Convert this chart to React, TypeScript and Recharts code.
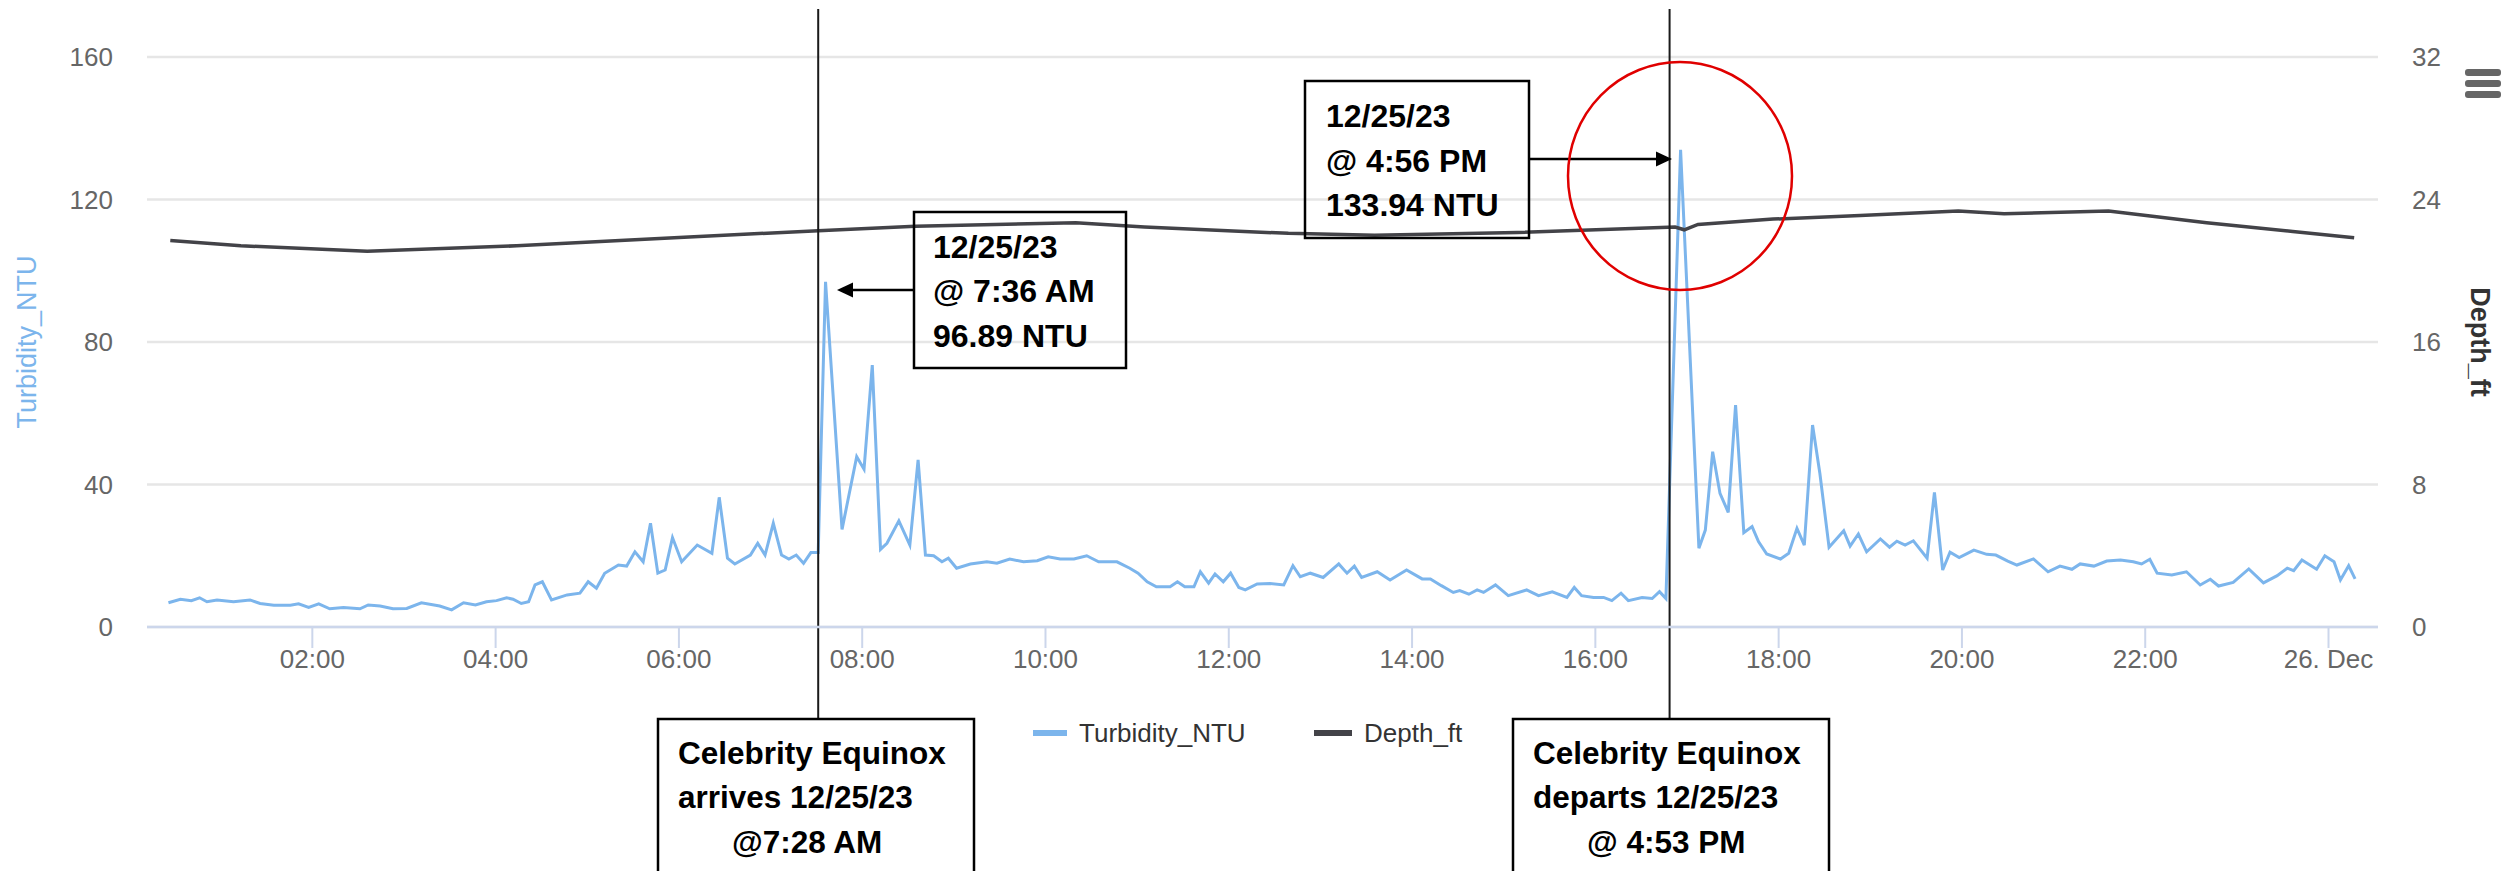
import React from "react";
import { LineChart, Line, XAxis, YAxis, CartesianGrid, ReferenceLine } from "recharts";

// turbidity readings, hours since midnight 12/25/23
const turbidityHours = [
  0.43, 0.56, 0.68, 0.77, 0.85, 0.96, 1.14, 1.32, 1.43, 1.58, 1.76, 1.85, 1.96, 2.07, 2.19, 2.34,
  2.52, 2.61, 2.74, 2.88, 3.03, 3.19, 3.39, 3.52, 3.65, 3.78, 3.9, 4.01, 4.12, 4.19, 4.28, 4.36,
  4.43, 4.51, 4.61, 4.78, 4.92, 5.01, 5.1, 5.19, 5.34, 5.43, 5.52, 5.61, 5.69, 5.77, 5.85, 5.93,
  6.03, 6.2, 6.36, 6.44, 6.53, 6.61, 6.78, 6.86, 6.94, 7.03, 7.12, 7.2, 7.28, 7.36, 7.44, 7.52,
  7.6, 7.78, 7.94, 8.02, 8.11, 8.2, 8.27, 8.4, 8.52, 8.61, 8.69, 8.78, 8.87, 8.94, 9.03, 9.18,
  9.36, 9.47, 9.61, 9.76, 9.91, 10.03, 10.16, 10.31, 10.45, 10.58, 10.78, 10.92, 11.01, 11.11,
  11.21, 11.36, 11.44, 11.52, 11.62, 11.69, 11.78, 11.85, 11.94, 12.02, 12.11, 12.18, 12.31,
  12.45, 12.6, 12.7, 12.78, 12.89, 13.03, 13.2, 13.29, 13.37, 13.45, 13.62, 13.76, 13.94, 14.11,
  14.2, 14.32, 14.45, 14.52, 14.62, 14.71, 14.78, 14.91, 15.05, 15.25, 15.38, 15.53, 15.69,
  15.77, 15.85, 15.98, 16.09, 16.18, 16.28, 16.36, 16.51, 16.62, 16.7, 16.77, 16.93, 17.13,
  17.2, 17.28, 17.36, 17.45, 17.53, 17.62, 17.71, 17.78, 17.87, 18.02, 18.11, 18.2, 18.28, 18.37,
  18.45, 18.55, 18.71, 18.78, 18.87, 18.96, 19.11, 19.21, 19.29, 19.38, 19.47, 19.62, 19.7,
  19.79, 19.87, 19.97, 20.13, 20.27, 20.37, 20.5, 20.6, 20.78, 20.94, 21.07, 21.2, 21.29, 21.44,
  21.58, 21.73, 21.87, 21.96, 22.05, 22.13, 22.29, 22.45, 22.6, 22.71, 22.8, 22.96, 23.13, 23.29,
  23.44, 23.55, 23.62, 23.71, 23.87, 23.96, 24.06, 24.13, 24.22, 24.29,
];
const turbidityNtu = [
  6.8, 7.8, 7.4, 8.2, 7.1, 7.6, 7.1, 7.6, 6.6, 6.1, 6.1, 6.5, 5.5, 6.5, 5.1, 5.5,
  5.1, 6.2, 5.9, 5.1, 5.2, 6.8, 5.9, 4.8, 6.8, 6.2, 7.1, 7.4, 8.2, 7.8, 6.6, 7.1,
  11.8, 12.7, 7.6, 9.0, 9.5, 12.7, 10.9, 15.1, 17.4, 17.1, 21.1, 18.3, 29.1, 15.1, 16.0, 25.1,
  18.3, 23.0, 20.7, 36.4, 19.3, 17.7, 20.2, 23.5, 20.2, 29.1, 20.2, 19.1, 20.2, 17.9, 20.9, 20.9,
  96.89, 27.4, 47.8, 44.3, 73.5, 21.8, 23.5, 29.8, 23.0, 46.9, 20.2, 20.0, 18.3, 19.3, 16.5, 17.7,
  18.3, 17.9, 19.1, 18.3, 18.6, 19.7, 19.1, 19.1, 20.0, 18.3, 18.3, 16.5, 15.1, 12.7,
  11.3, 11.3, 12.7, 11.3, 11.3, 15.5, 12.3, 14.9, 12.7, 15.1, 11.1, 10.4, 12.1,
  12.2, 11.8, 17.2, 14.1, 15.1, 13.9, 17.7, 15.1, 17.1, 13.9, 15.5, 13.2, 16.0, 13.5,
  13.5, 11.6, 9.7, 10.2, 9.2, 10.4, 9.7, 11.8, 8.8, 10.4, 8.8, 9.9, 8.3,
  11.1, 8.8, 8.3, 8.3, 7.4, 9.5, 7.4, 8.3, 8.0, 9.9, 8.0, 133.94, 22.1,
  27.2, 49.2, 37.5, 32.2, 62.3, 26.5, 28.2, 24.0, 20.5, 19.1, 20.7, 27.7, 23.0, 56.7,
  43.1, 22.4, 27.0, 22.7, 26.1, 21.1, 24.7, 22.4, 24.1, 23.0, 24.2, 19.3, 37.8,
  16.0, 21.0, 19.5, 21.6, 20.4, 20.2, 18.5, 17.4, 19.1, 15.5, 17.1, 16.2, 17.7, 17.1,
  18.5, 18.8, 18.3, 17.7, 19.0, 15.1, 14.6, 15.5, 11.8, 13.4, 11.5, 12.5, 16.3, 12.4,
  14.4, 16.5, 15.8, 18.8, 16.2, 20.0, 18.3, 13.2, 17.2, 13.5,
];

const depthHours = [
  0.45, 1.22, 2.6, 4.23, 6.11, 7.52, 8.58, 10.33, 11.08, 12.65, 13.59, 15.15,
  16.87, 16.97, 17.12, 17.94, 18.89, 19.96, 20.46, 21.6, 22.67, 23.61, 24.28,
];
const depthFt = [
  21.7, 21.4, 21.1, 21.4, 21.9, 22.25, 22.5, 22.7, 22.45, 22.1, 22.0, 22.15,
  22.45, 22.3, 22.6, 22.9, 23.1, 23.35, 23.2, 23.35, 22.7, 22.2, 21.85,
];

const hourTicks = [2, 4, 6, 8, 10, 12, 14, 16, 18, 20, 22, 24];
const ntuTicks = [0, 40, 80, 120, 160];
const depthTicks = [0, 8, 16, 24, 32];
// ship arrival / departure (as drawn on the screenshot)
const shipHours = [7.52, 16.81];

const turbidityData = turbidityHours.map((t, i) => ({ t, v: turbidityNtu[i] }));
const depthData = depthHours.map((t, i) => ({ t, v: depthFt[i] }));

const FONT = '"Liberation Sans", Arial, Helvetica, sans-serif';

function hourLabel(h: number) {
  if (h === 24) return "26. Dec";
  return `${String(h).padStart(2, "0")}:00`;
}

function shipLine(props: any) {
  return <line x1={props.x1} x2={props.x2} y1={9} y2={719} stroke="#1a1a1a" strokeWidth={2} />;
}

function Callout({ x, y, w, h, lines, tx, baselines, size }: any) {
  return (
    <g>
      <rect x={x} y={y} width={w} height={h} fill="none" stroke="#000" strokeWidth={2.5} />
      {lines.map((s: string, i: number) => (
        <text
          key={i}
          x={tx + (s.startsWith("@") && y > 600 ? 54 : 0)}
          y={baselines[i]}
          fontFamily={FONT}
          fontWeight={700}
          fontSize={size}
          fill="#000"
        >
          {s}
        </text>
      ))}
    </g>
  );
}

export default function App() {
  return (
    <div style={{ position: "relative", width: 2506, height: 871, overflow: "hidden", background: "#fff", fontFamily: FONT }}>
      <style>{"body{margin:0}"}</style>
      <LineChart width={2506} height={871} margin={{ top: 57, right: 0, bottom: 0, left: 0 }}>
        <CartesianGrid vertical={false} stroke="#e6e6e6" strokeWidth={2.5} yAxisId="left" />
        <XAxis
          dataKey="t"
          type="number"
          domain={[0.196, 24.54]}
          allowDataOverflow
          ticks={hourTicks}
          interval={0}
          tickFormatter={hourLabel}
          height={244}
          tickSize={21}
          tickMargin={2}
          axisLine={{ stroke: "#ccd6eb", strokeWidth: 2.5 }}
          tickLine={{ stroke: "#ccd6eb", strokeWidth: 2 }}
          tick={{ fill: "#666", fontSize: 26, fontFamily: FONT }}
        />
        <YAxis
          yAxisId="left"
          domain={[0, 160]}
          ticks={ntuTicks}
          width={147}
          axisLine={false}
          tickLine={false}
          tickSize={0}
          tickMargin={34}
          tick={{ fill: "#666", fontSize: 26, fontFamily: FONT }}
        />
        <YAxis
          yAxisId="right"
          orientation="right"
          domain={[0, 32]}
          ticks={depthTicks}
          width={128}
          axisLine={false}
          tickLine={false}
          tickSize={0}
          tickMargin={34}
          tick={{ fill: "#666", fontSize: 26, fontFamily: FONT }}
        />
        <Line
          yAxisId="left"
          data={turbidityData}
          dataKey="v"
          name="Turbidity_NTU"
          type="linear"
          stroke="#7cb5ec"
          strokeWidth={3}
          dot={false}
          isAnimationActive={false}
        />
        <Line
          yAxisId="right"
          data={depthData}
          dataKey="v"
          name="Depth_ft"
          type="linear"
          stroke="#434348"
          strokeWidth={3.5}
          dot={false}
          isAnimationActive={false}
        />
        {shipHours.map((h) => (
          <ReferenceLine key={h} x={h} yAxisId="left" shape={shipLine} />
        ))}
      </LineChart>

      <svg width={2506} height={871} style={{ position: "absolute", left: 0, top: 0, pointerEvents: "none" }}>
        {/* axis titles */}
        <text x={27} y={342} transform="rotate(-90 27 342)" textAnchor="middle" dominantBaseline="central"
          fontFamily={FONT} fontSize={27} fill="#7cb5ec">Turbidity_NTU</text>
        <text x={2480} y={342} transform="rotate(90 2480 342)" textAnchor="middle" dominantBaseline="central"
          fontFamily={FONT} fontSize={27} fontWeight={700} fill="#333">Depth_ft</text>

        {/* menu button */}
        <rect x={2465} y={69} width={36} height={7} rx={3} fill="#666" />
        <rect x={2465} y={80} width={36} height={7} rx={3} fill="#666" />
        <rect x={2465} y={91} width={36} height={7} rx={3} fill="#666" />

        {/* legend */}
        <line x1={1033} x2={1067} y1={733} y2={733} stroke="#7cb5ec" strokeWidth={6} />
        <text x={1079} y={742} fontFamily={FONT} fontSize={26} fill="#333">Turbidity_NTU</text>
        <line x1={1314} x2={1352} y1={733} y2={733} stroke="#434348" strokeWidth={6} />
        <text x={1364} y={742} fontFamily={FONT} fontSize={26} fill="#333">Depth_ft</text>

        {/* callouts */}
        <Callout x={914} y={212} w={212} h={156} tx={933} baselines={[258, 302, 347]} size={32}
          lines={["12/25/23", "@ 7:36 AM", "96.89 NTU"]} />
        <line x1={914} x2={850} y1={290} y2={290} stroke="#000" strokeWidth={2.5} />
        <polygon points="837,290 853,282.5 853,297.5" fill="#000" />

        <Callout x={1305} y={81} w={224} h={157} tx={1326} baselines={[127, 172, 216]} size={32}
          lines={["12/25/23", "@ 4:56 PM", "133.94 NTU"]} />
        <line x1={1529} x2={1658} y1={159} y2={159} stroke="#000" strokeWidth={2.5} />
        <polygon points="1672,159 1656,151.5 1656,166.5" fill="#000" />

        <ellipse cx={1680} cy={176} rx={112} ry={114} fill="none" stroke="#e00000" strokeWidth={2.5} />

        <Callout x={658} y={719} w={316} h={220} tx={678} baselines={[764, 808, 853]} size={31.5}
          lines={["Celebrity Equinox", "arrives 12/25/23", "@7:28 AM"]} />
        <Callout x={1513} y={719} w={316} h={220} tx={1533} baselines={[764, 808, 853]} size={31.5}
          lines={["Celebrity Equinox", "departs 12/25/23", "@ 4:53 PM"]} />
      </svg>
    </div>
  );
}
